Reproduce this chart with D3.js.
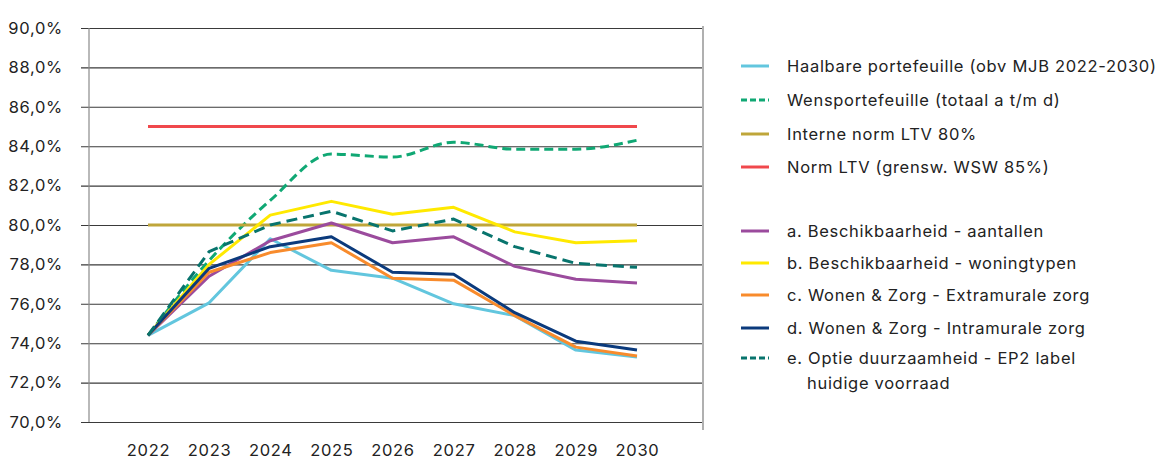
<!DOCTYPE html>
<html>
<head>
<meta charset="utf-8">
<script src="https://cdn.jsdelivr.net/npm/d3@7"></script>
<style>
  html, body { margin: 0; padding: 0; background: #fff; }
  svg { display: block; font-family: Inter, "Open Sans", sans-serif; }
  svg text { letter-spacing: 0.7px; }
</style>
</head>
<body>
<svg id="chart" width="1163" height="459"></svg>
<script>
// Jaren op de x-as
const years = [2022, 2023, 2024, 2025, 2026, 2027, 2028, 2029, 2030];

// LTV-percentages per scenario
const haalbaar   = [74.4, 76.05, 79.3, 77.7, 77.3, 76.0, 75.4, 73.65, 73.3];
const wens       = [74.4, 78.2, 81.25, 83.6, 83.45, 84.2, 83.85, 83.85, 84.3];
const interneNorm = [80, 80, 80, 80, 80, 80, 80, 80, 80];
const normLtv    = [85, 85, 85, 85, 85, 85, 85, 85, 85];
const optieA     = [74.4, 77.4, 79.2, 80.1, 79.1, 79.4, 77.9, 77.25, 77.05];
const optieB     = [74.4, 78.0, 80.5, 81.2, 80.55, 80.9, 79.65, 79.1, 79.2];
const optieC     = [74.4, 77.6, 78.6, 79.1, 77.3, 77.2, 75.4, 73.8, 73.35];
const optieD     = [74.4, 77.8, 78.9, 79.4, 77.6, 77.5, 75.55, 74.1, 73.65];
const optieE     = [74.4, 78.65, 80.0, 80.7, 79.7, 80.3, 78.9, 78.05, 77.85];

// Y-as ticks
const yTicks = [70, 72, 74, 76, 78, 80, 82, 84, 86, 88, 90];

const seriesNames = [
  "Haalbare portefeuille (obv MJB 2022-2030)",
  "Wensportefeuille (totaal a t/m d)",
  "Interne norm LTV 80%",
  "Norm LTV (grensw. WSW 85%)",
  "a. Beschikbaarheid - aantallen",
  "b. Beschikbaarheid - woningtypen",
  "c. Wonen & Zorg - Extramurale zorg",
  "d. Wonen & Zorg - Intramurale zorg",
  "e. Optie duurzaamheid - EP2 label|huidige voorraad"
];
const seriesValues = [haalbaar, wens, interneNorm, normLtv, optieA, optieB, optieC, optieD, optieE];

// Opmaak per reeks
const styles = [
  { color: "#62c6de", dash: null, smooth: false },
  { color: "#10a874", dash: "9,5", smooth: true },
  { color: "#bfa63a", dash: null, smooth: false },
  { color: "#f0484c", dash: null, smooth: false },
  { color: "#9b4b9d", dash: null, smooth: false },
  { color: "#ffe900", dash: null, smooth: false },
  { color: "#f88b2c", dash: null, smooth: false },
  { color: "#0b3a7c", dash: null, smooth: false },
  { color: "#08746d", dash: "11,6", smooth: false }
];

const FONT = "Inter, 'Open Sans', sans-serif";
const FONT_SIZE = 16.5;

const svg = d3.select("#chart");

const plot = { left: 89, right: 703, top: 28, bottom: 422 };

const x = d3.scalePoint().domain(years).range([148, 637]);
const y = d3.scaleLinear().domain([70, 90]).range([plot.bottom, plot.top]);

const nl = d3.formatLocale({ decimal: ",", thousands: ".", grouping: [3], currency: ["€", ""] });
const pct = v => nl.format(".1f")(v) + "%";

// Rasterlijnen met labels (as aan de rechterkant, ticks lopen naar links door)
const yAxis = d3.axisLeft(y)
  .tickValues(yTicks)
  .tickSize(plot.right - 81)
  .tickPadding(18)
  .tickFormat(pct);

const gy = svg.append("g")
  .attr("transform", `translate(${plot.right},0)`)
  .call(yAxis);
gy.select(".domain").remove();
gy.selectAll(".tick line").attr("stroke", "#3a3a3a").attr("stroke-width", 1.1);
gy.selectAll(".tick text")
  .attr("font-size", FONT_SIZE)
  .attr("fill", "#222")
  .attr("font-family", FONT);

// Verticale as en rechterrand
svg.append("line")
  .attr("x1", plot.left).attr("x2", plot.left)
  .attr("y1", plot.top).attr("y2", plot.bottom)
  .attr("stroke", "#8a8a8a").attr("stroke-width", 1.2);
svg.append("line")
  .attr("x1", plot.right).attr("x2", plot.right)
  .attr("y1", plot.top - 2).attr("y2", plot.bottom + 8)
  .attr("stroke", "#b0b0b0").attr("stroke-width", 2);

// X-as labels
const xAxis = d3.axisBottom(x).tickSize(0).tickPadding(22);
const gx = svg.append("g")
  .attr("transform", `translate(0,${plot.bottom})`)
  .call(xAxis);
gx.select(".domain").remove();
gx.selectAll(".tick text")
  .attr("font-size", FONT_SIZE)
  .attr("fill", "#222")
  .attr("font-family", FONT);

// Lijnen
const lineStraight = d3.line().x((d, i) => x(years[i])).y(d => y(d));
const lineSmooth = d3.line().x((d, i) => x(years[i])).y(d => y(d)).curve(d3.curveMonotoneX);

seriesValues.forEach((vals, i) => {
  const st = styles[i];
  svg.append("path")
    .datum(vals)
    .attr("fill", "none")
    .attr("stroke", st.color)
    .attr("stroke-width", 3)
    .attr("stroke-linejoin", "round")
    .attr("stroke-dasharray", st.dash)
    .attr("d", st.smooth ? lineSmooth(vals) : lineStraight(vals));
});

// Legenda
const legendY = [66, 100, 134, 167, 231, 263, 295, 328, 358];
const legend = svg.append("g");
seriesNames.forEach((name, i) => {
  const st = styles[i];
  const ly = legendY[i];
  legend.append("line")
    .attr("x1", 741).attr("x2", 769)
    .attr("y1", ly).attr("y2", ly)
    .attr("stroke", st.color)
    .attr("stroke-width", 3)
    .attr("stroke-dasharray", st.dash ? "6,3" : null);
  const parts = name.split("|");
  parts.forEach((p, j) => {
    legend.append("text")
      .attr("x", j === 0 ? 787 : 807)
      .attr("y", ly + j * 25)
      .attr("dy", "0.35em")
      .attr("font-size", FONT_SIZE)
      .attr("font-family", FONT)
      .attr("fill", "#222")
      .text(p);
  });
});
</script>
</body>
</html>
